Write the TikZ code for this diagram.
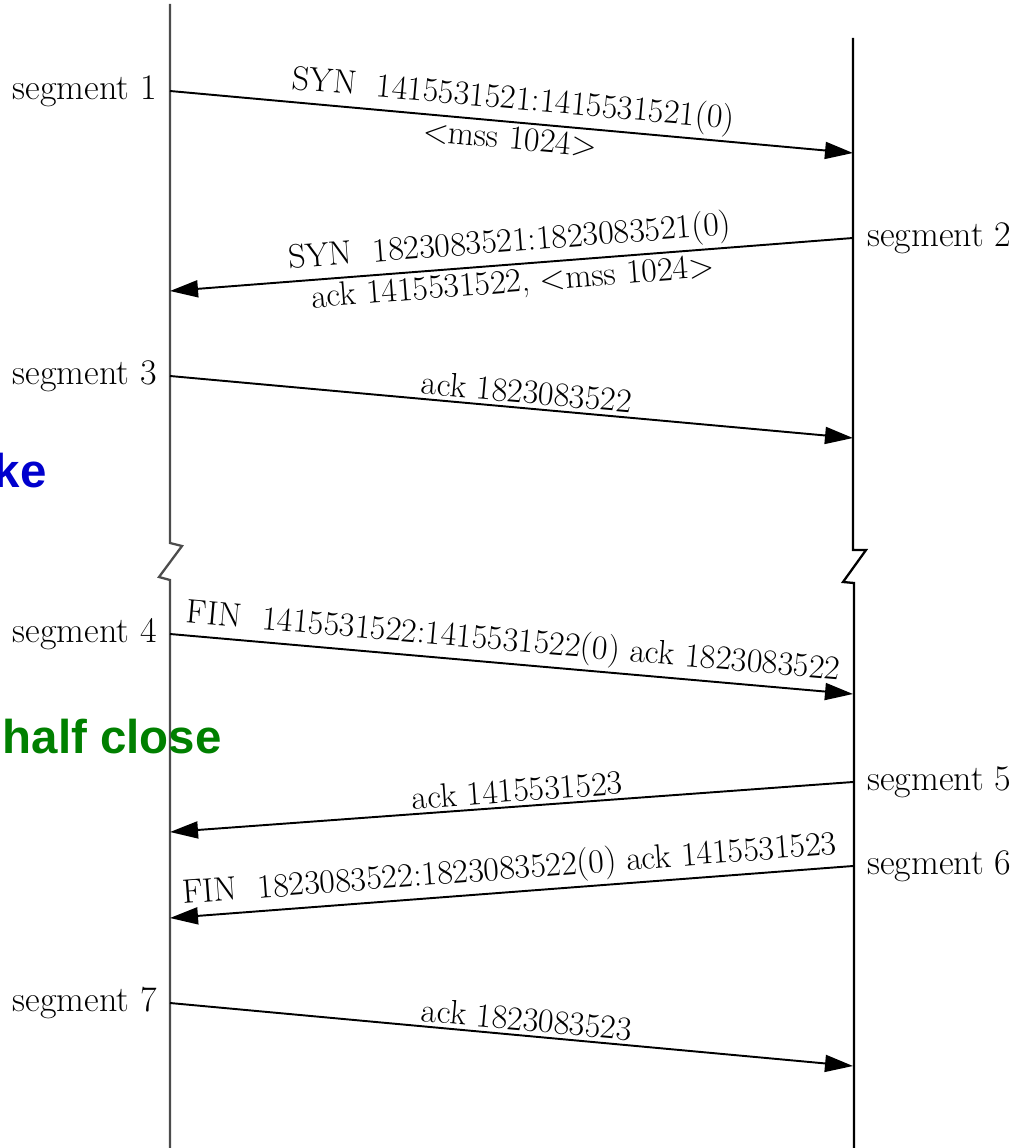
\documentclass[tikz,border=0pt]{standalone}
\usepackage{fontspec}
\newfontfamily\notefont{Liberation Sans}
\usetikzlibrary{arrows.meta, positioning}
\usepackage{xcolor}
\definecolor{noteblue}{RGB}{0,0,205}
\definecolor{notegreen}{RGB}{0,128,0}

\begin{document}
\begin{tikzpicture}[x=0.02cm, y=-0.02cm, >={Triangle[length=0.56cm, width=0.34cm]},
  life/.style={line width=1.3pt, line join=miter},
  msg/.style={->, line width=1.1pt},
  seglabel/.style={font=\fontsize{20.5}{22}\selectfont, inner sep=1pt},
  txt/.style={font=\fontsize{19.3}{21}\selectfont, sloped, inner sep=2pt},
  note/.style={font=\notefont\bfseries\fontsize{27}{30}\selectfont, text=#1, inner sep=0pt}]
  \useasboundingbox (0,0) rectangle (1015,1148);
  \coordinate (a1) at (170,91);   \coordinate (b1) at (853,153);
  \coordinate (b2) at (853,238);  \coordinate (a2) at (170,291);
  \coordinate (a3) at (170,376);  \coordinate (b3) at (853,438);
  \coordinate (a4) at (170,634);  \coordinate (b4) at (853,694);
  \coordinate (b5) at (853,782);  \coordinate (a5) at (170,832);
  \coordinate (b6) at (853,866);  \coordinate (a6) at (170,918);
  \coordinate (a7) at (170,1003); \coordinate (b7) at (853,1066);
  \draw[life, black!70] (170,4) -- (170,543) -- (182,546) -- (159,577) -- (170,580) -- (170,1148);
  \draw[life] (853,38) -- (853,550) -- (866,550) -- (843,582) -- (854,583) -- (854,1148);
  \node[note=noteblue, anchor=base east] (hs) at (47,487) {ke};
  \node[note=notegreen, anchor=base east] (hc) at (222,753) {half close};
  \node[seglabel, left=0.22cm of a1] (s1) {segment 1};
  \node[seglabel, right=0.24cm of b2] (s2) {segment 2};
  \node[seglabel, left=0.22cm of a3] (s3) {segment 3};
  \node[seglabel, left=0.22cm of a4] (s4) {segment 4};
  \node[seglabel, right=0.24cm of b5] (s5) {segment 5};
  \node[seglabel, right=0.24cm of b6] (s6) {segment 6};
  \node[seglabel, left=0.22cm of a7] (s7) {segment 7};
  \draw[msg] (a1) -- node[txt, above] (m1) {SYN\ \ 1415531521:1415531521(0)} node[txt, below] (m1b) {<mss 1024>} (b1);
  \draw[msg] (b2) -- node[txt, above] (m2) {SYN\ \ 1823083521:1823083521(0)} node[txt, below] (m2b) {ack 1415531522, <mss 1024>} (a2);
  \draw[msg] (a3) -- node[txt, above, pos=0.52] (m3) {ack 1823083522} (b3);
  \draw[msg] (a4) -- node[txt, above] (m4) {FIN\ \ 1415531522:1415531522(0) ack 1823083522} (b4);
  \draw[msg] (b5) -- node[txt, above, pos=0.49] (m5) {ack 1415531523} (a5);
  \draw[msg] (b6) -- node[txt, above] (m6) {FIN\ \ 1823083522:1823083522(0) ack 1415531523} (a6);
  \draw[msg] (a7) -- node[txt, above, pos=0.52] (m7) {ack 1823083523} (b7);
\end{tikzpicture}
\end{document}
